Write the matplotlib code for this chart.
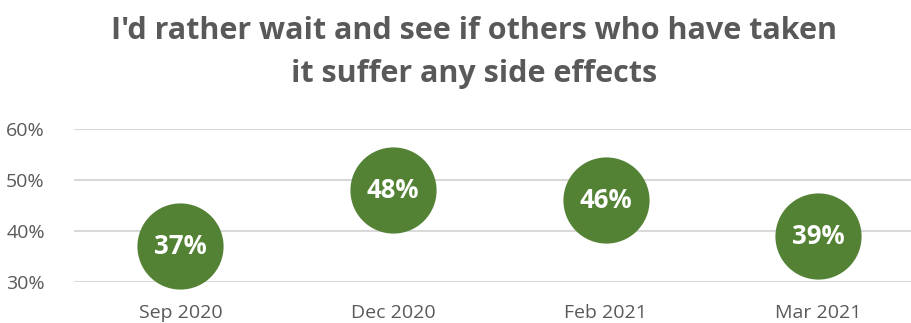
import matplotlib
matplotlib.use("Agg")
import matplotlib.pyplot as plt
from matplotlib.ticker import PercentFormatter

categories = ["Sep 2020", "Dec 2020", "Feb 2021", "Mar 2021"]
values = [0.37, 0.48, 0.46, 0.39]
labels = ["37%", "48%", "46%", "39%"]
title_lines = ["I'd rather wait and see if others who have taken",
               "it suffer any side effects"]

GREEN = "#548235"
GRAY = "#595959"
plt.rcParams["font.family"] = ["Open Sans", "DejaVu Sans"]

fig = plt.figure(figsize=(9.12, 3.23), dpi=100)
ax = fig.add_axes([74 / 912, 0.127, 1 - 74 / 912, 0.4737])

x = range(len(categories))
ax.scatter(x, values, s=3850, color=GREEN, zorder=3, clip_on=False, linewidths=0)
for xi, v, lab in zip(x, values, labels):
    ax.text(xi, v, lab, color="white", fontsize=18.5, fontweight="bold",
            ha="center", va="center", zorder=4)

ax.set_xlim(-0.5, 3.44)
ax.set_ylim(0.30, 0.60)
ax.set_yticks([0.30, 0.40, 0.50, 0.60])
ax.yaxis.set_major_formatter(PercentFormatter(1.0, decimals=0))
ax.set_xticks(list(x))
ax.set_xticklabels(categories)
ax.grid(axis="y", color="#d9d9d9", linewidth=1.5, zorder=0)
ax.set_axisbelow(True)
for s in ax.spines.values():
    s.set_visible(False)
ax.tick_params(length=0, colors=GRAY, labelsize=14)
ax.tick_params(axis="y", pad=21)
ax.tick_params(axis="x", pad=16)

# two title lines placed by baseline
for line, yb in zip(title_lines, [0.879, 0.745]):
    fig.text(0.52, yb, line, ha="center", va="baseline", fontsize=22,
             fontweight="bold", color=GRAY)

fig.savefig("out.png", dpi=100)
